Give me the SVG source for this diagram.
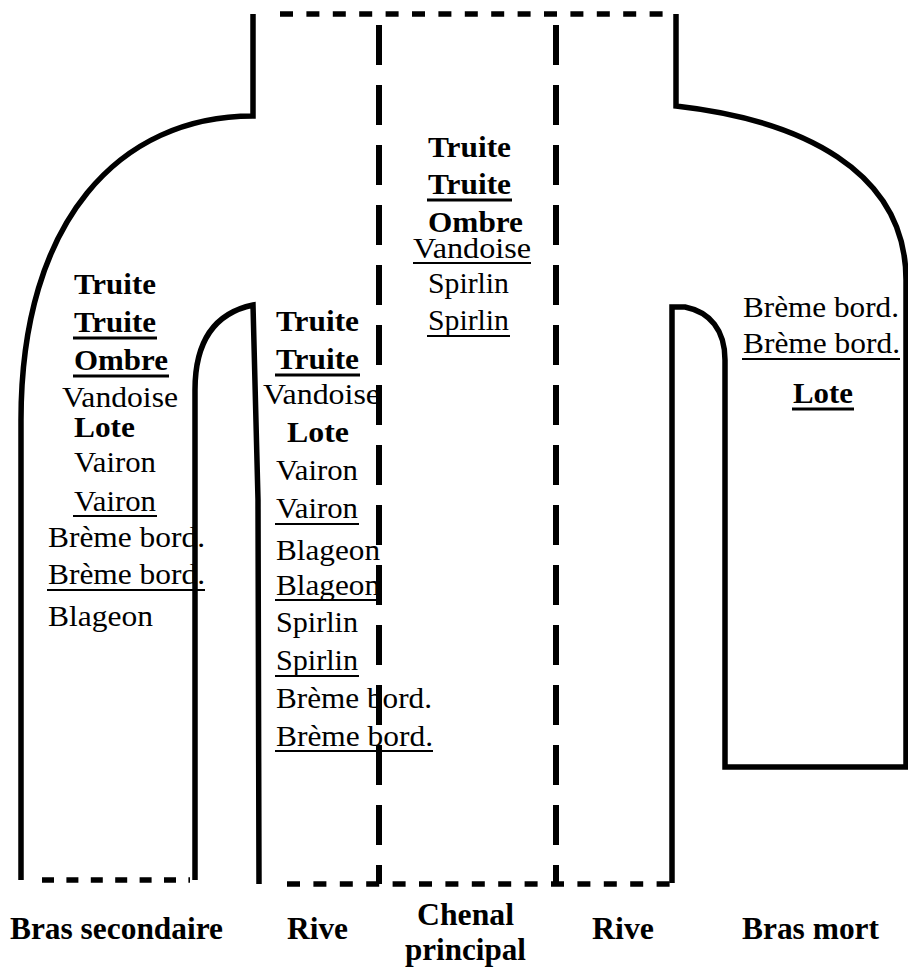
<svg xmlns="http://www.w3.org/2000/svg" width="908" height="972" viewBox="0 0 908 972">
<style>
  text { font-family: "Liberation Serif", "Times New Roman", serif; font-size: 30px; fill: #000; }
  .b { font-weight: bold; }
  .lab { font-weight: bold; font-size: 31px; }
  .ul { stroke: #000; stroke-width: 2; }
  .ulb { stroke: #000; stroke-width: 3; }
  .solid { fill: none; stroke: #000; stroke-width: 5.5; stroke-linejoin: miter; }
  .short { fill: none; stroke: #000; stroke-width: 5.5; stroke-dasharray: 13 13.4; }
  .long { fill: none; stroke: #000; stroke-width: 6; stroke-dasharray: 40 20; }
</style>
<rect width="908" height="972" fill="#fff"/>

<g id="zone-bras-secondaire">
  <text class="b" x="74" y="294" textLength="82" lengthAdjust="spacingAndGlyphs">Truite</text>
  <text class="b" x="74" y="332" textLength="82" lengthAdjust="spacingAndGlyphs">Truite</text>
  <line class="ulb" x1="73" y1="338" x2="157" y2="338"/>
  <text class="b" x="74" y="370" textLength="94" lengthAdjust="spacingAndGlyphs">Ombre</text>
  <line class="ulb" x1="73" y1="376" x2="169" y2="376"/>
  <text x="62" y="407" textLength="116" lengthAdjust="spacingAndGlyphs">Vandoise</text>
  <text class="b" x="74" y="437" textLength="61" lengthAdjust="spacingAndGlyphs">Lote</text>
  <text x="74" y="472" textLength="82" lengthAdjust="spacingAndGlyphs">Vairon</text>
  <text x="74" y="511" textLength="82" lengthAdjust="spacingAndGlyphs">Vairon</text>
  <line class="ul" x1="73" y1="516" x2="157" y2="516"/>
  <text x="48" y="547" textLength="157" lengthAdjust="spacingAndGlyphs">Brème bord.</text>
  <text x="48" y="584" textLength="157" lengthAdjust="spacingAndGlyphs">Brème bord.</text>
  <line class="ul" x1="47" y1="590" x2="205" y2="590"/>
  <text x="48" y="626" textLength="105" lengthAdjust="spacingAndGlyphs">Blageon</text>
</g>

<g id="zone-rive-gauche">
  <text class="b" x="276" y="331" textLength="83" lengthAdjust="spacingAndGlyphs">Truite</text>
  <text class="b" x="276" y="369" textLength="83" lengthAdjust="spacingAndGlyphs">Truite</text>
  <line class="ulb" x1="275" y1="375" x2="360" y2="375"/>
  <text x="263" y="404" textLength="117" lengthAdjust="spacingAndGlyphs">Vandoise</text>
  <text class="b" x="287" y="442" textLength="62" lengthAdjust="spacingAndGlyphs">Lote</text>
  <text x="276" y="480" textLength="82" lengthAdjust="spacingAndGlyphs">Vairon</text>
  <text x="276" y="518" textLength="82" lengthAdjust="spacingAndGlyphs">Vairon</text>
  <line class="ul" x1="275" y1="524" x2="359" y2="524"/>
  <text x="276" y="560" textLength="104" lengthAdjust="spacingAndGlyphs">Blageon</text>
  <text x="276" y="595" textLength="104" lengthAdjust="spacingAndGlyphs">Blageon</text>
  <line class="ul" x1="275" y1="600" x2="380" y2="600"/>
  <text x="276" y="632" textLength="82" lengthAdjust="spacingAndGlyphs">Spirlin</text>
  <text x="276" y="670" textLength="82" lengthAdjust="spacingAndGlyphs">Spirlin</text>
  <line class="ul" x1="275" y1="676" x2="359" y2="676"/>
  <text x="276" y="708" textLength="156" lengthAdjust="spacingAndGlyphs">Brème bord.</text>
  <text x="276" y="746" textLength="157" lengthAdjust="spacingAndGlyphs">Brème bord.</text>
  <line class="ul" x1="275" y1="751" x2="433" y2="751"/>
</g>

<g id="zone-chenal">
  <text class="b" x="428" y="157" textLength="83" lengthAdjust="spacingAndGlyphs">Truite</text>
  <text class="b" x="428" y="194" textLength="83" lengthAdjust="spacingAndGlyphs">Truite</text>
  <line class="ulb" x1="427" y1="200" x2="512" y2="200"/>
  <text class="b" x="428" y="232" textLength="95" lengthAdjust="spacingAndGlyphs">Ombre</text>
  <text x="413" y="258" textLength="118" lengthAdjust="spacingAndGlyphs">Vandoise</text>
  <line class="ul" x1="413" y1="263" x2="531" y2="263"/>
  <text x="428" y="293" textLength="81" lengthAdjust="spacingAndGlyphs">Spirlin</text>
  <text x="428" y="330" textLength="81" lengthAdjust="spacingAndGlyphs">Spirlin</text>
  <line class="ul" x1="427" y1="336" x2="510" y2="336"/>
</g>

<g id="zone-bras-mort">
  <text x="743" y="317" textLength="156" lengthAdjust="spacingAndGlyphs">Brème bord.</text>
  <text x="743" y="353" textLength="157" lengthAdjust="spacingAndGlyphs">Brème bord.</text>
  <line class="ul" x1="742" y1="359" x2="900" y2="359"/>
  <text class="b" x="793" y="403" textLength="60" lengthAdjust="spacingAndGlyphs">Lote</text>
  <line class="ulb" x1="792" y1="409" x2="854" y2="409"/>
</g>

<g id="outline">
  <path class="solid" d="M 21 880 L 21 420 C 21 220, 120 116, 253 116 L 253 14"/>
  <path class="solid" d="M 195 880 L 195 390 C 195 340, 215 313, 253 305 L 258 500 L 259 884"/>
  <path class="solid" d="M 676 14 L 676 106 C 800 120, 906 170, 906 280 L 906 767 L 725 767 L 725 360 C 725 330, 710 312, 685 307 L 672 307 L 672 883"/>
</g>

<g id="connectors">
  <line class="short" x1="280" y1="14" x2="676" y2="14"/>
  <line class="short" x1="42" y1="880" x2="190" y2="880" style="stroke-dasharray: 12 12.4"/>
  <line class="short" x1="287" y1="884" x2="672" y2="884"/>
  <line class="long" x1="379" y1="25" x2="379" y2="884"/>
  <line class="long" x1="556" y1="25" x2="556" y2="884"/>
</g>

<g id="labels">
  <text class="lab" x="10" y="939" textLength="213" lengthAdjust="spacingAndGlyphs">Bras secondaire</text>
  <text class="lab" x="287" y="939" textLength="61" lengthAdjust="spacingAndGlyphs">Rive</text>
  <text class="lab" x="417" y="925" textLength="97" lengthAdjust="spacingAndGlyphs">Chenal</text>
  <text class="lab" x="405" y="960" textLength="121" lengthAdjust="spacingAndGlyphs">principal</text>
  <text class="lab" x="592" y="939" textLength="62" lengthAdjust="spacingAndGlyphs">Rive</text>
  <text class="lab" x="742" y="939" textLength="137" lengthAdjust="spacingAndGlyphs">Bras mort</text>
</g>
</svg>
